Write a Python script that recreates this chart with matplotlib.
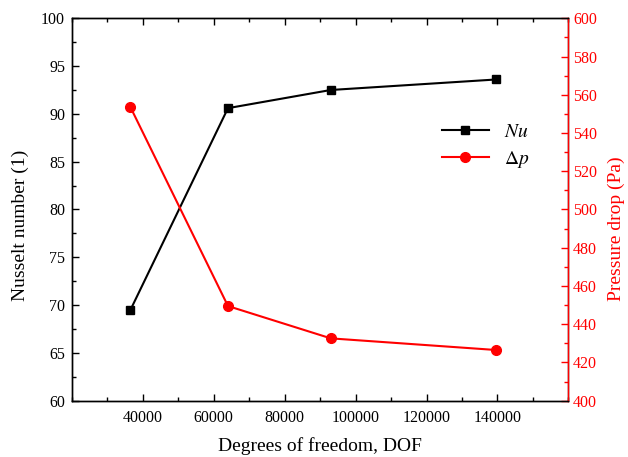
import matplotlib
matplotlib.use("Agg")
import matplotlib.pyplot as plt
from matplotlib.ticker import MultipleLocator, FixedLocator

plt.rcParams['font.family'] = ['Liberation Serif', 'DejaVu Serif']
plt.rcParams['mathtext.fontset'] = 'stix'

# data
dof = [36500, 64000, 93000, 139700]
nusselt = [69.5, 90.6, 92.5, 93.6]
pressure_drop = [553.5, 449.5, 432.6, 426.5]
x_ticks = [40000, 60000, 80000, 100000, 120000, 140000]

fig = plt.figure(figsize=(6.28, 4.57), dpi=100)
ax = fig.add_axes([0.1146, 0.1232, 0.7904, 0.8368])
ax2 = ax.twinx()

l1, = ax.plot(dof, nusselt, color='black', marker='s', markersize=6, linewidth=1.5, label='$Nu$')
l2, = ax2.plot(dof, pressure_drop, color='red', marker='o', markersize=7, linewidth=1.5, label=r'$\Delta p$')

# axes ranges and ticks
ax.set_xlim(20000, 160000)
ax.set_ylim(60, 100)
ax2.set_ylim(400, 600)
ax.xaxis.set_major_locator(FixedLocator(x_ticks))
ax.xaxis.set_minor_locator(MultipleLocator(10000))
ax.yaxis.set_major_locator(MultipleLocator(5))
ax.yaxis.set_minor_locator(MultipleLocator(2.5))
ax2.yaxis.set_major_locator(MultipleLocator(20))
ax2.yaxis.set_minor_locator(MultipleLocator(10))

ax.tick_params(axis='x', which='both', direction='in', top=True, labelsize=11.5, pad=7)
ax.tick_params(axis='y', which='both', direction='in', right=False, labelsize=11.5, pad=5)
ax.tick_params(which='major', length=5, width=1)
ax.tick_params(which='minor', length=3, width=1)
ax2.tick_params(axis='y', which='both', direction='in', colors='red', labelsize=11.5)
ax2.tick_params(which='major', length=5, width=1)
ax2.tick_params(which='minor', length=3, width=1)

for s in ax.spines.values():
    s.set_linewidth(1)
for s in ax2.spines.values():
    s.set_linewidth(1)
ax2.spines['right'].set_color('red')

ax.set_xlabel("Degrees of freedom, DOF", fontsize=14, labelpad=8)
ax.set_ylabel("Nusselt number (1)", fontsize=14)
ax2.set_ylabel("Pressure drop (Pa)", fontsize=14, color='red')
ax.yaxis.set_label_coords(-0.087, 0.459)
ax2.yaxis.set_label_coords(1.080, 0.45)

ax2.legend(handles=[l1, l2], loc='center left', bbox_to_anchor=(0.71, 0.665),
           frameon=False, fontsize=14, handlelength=2.4, labelspacing=0.4)

fig.savefig("out.png", dpi=100)
